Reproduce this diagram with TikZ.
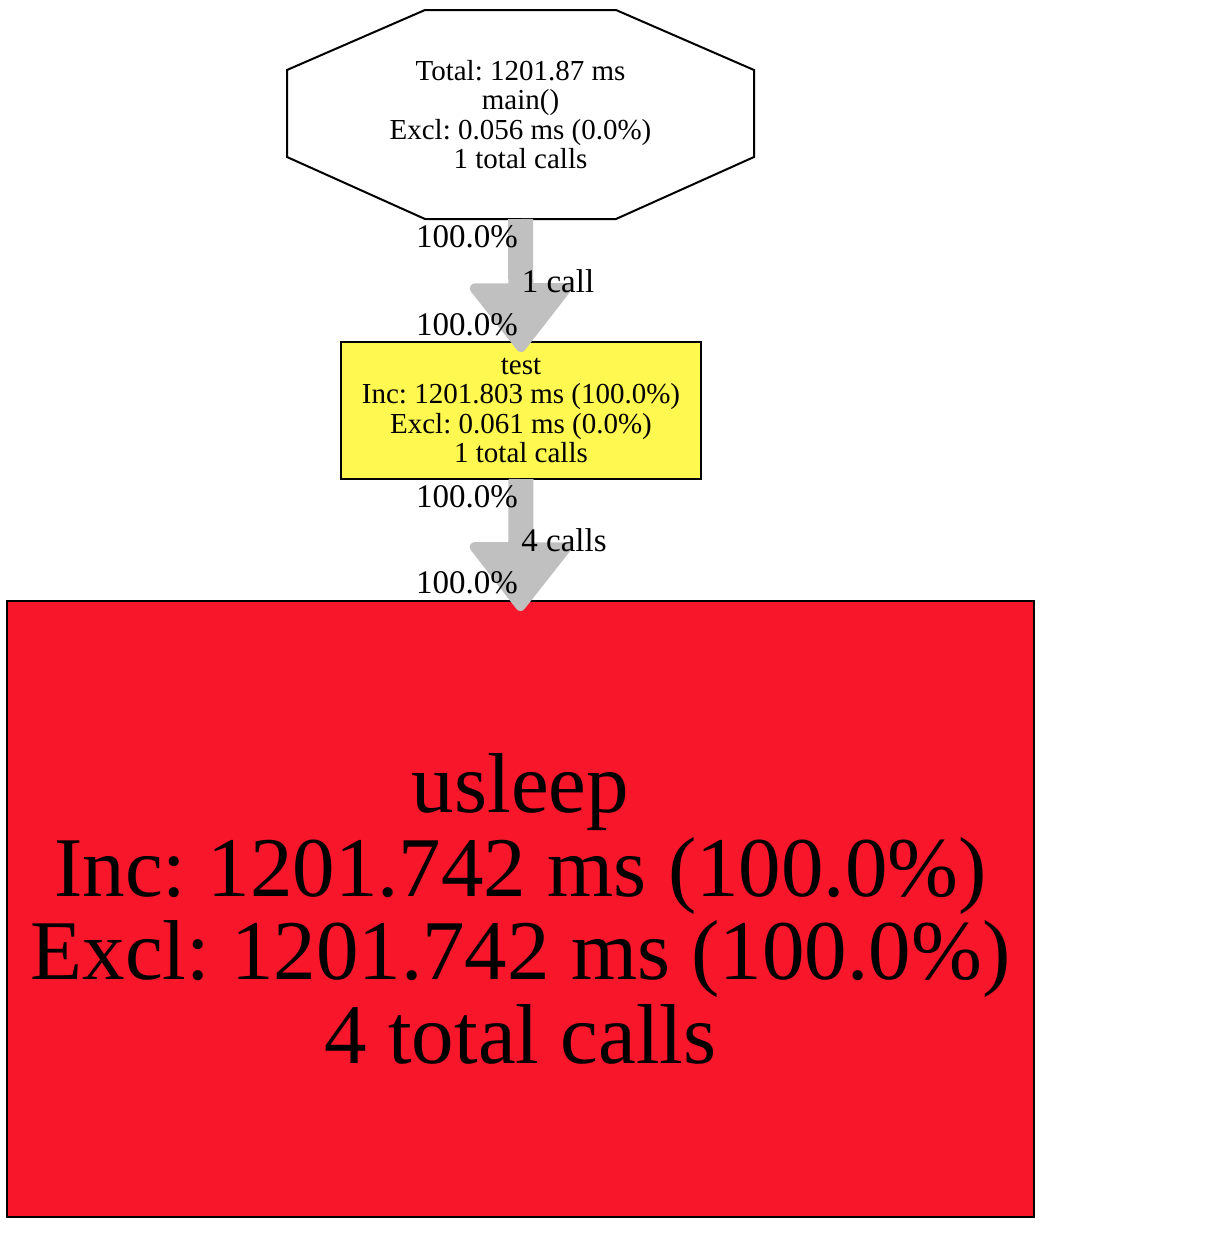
\documentclass[tikz,border=0pt]{standalone}
\usepackage{fontspec}
\setmainfont{Liberation Serif}
\usetikzlibrary{arrows.meta}
\definecolor{edgegray}{RGB}{192,192,192}
\definecolor{testyellow}{RGB}{255,248,80}
\definecolor{sleepred}{RGB}{247,22,42}
\frenchspacing

\begin{document}
\begin{tikzpicture}[x=1pt, y=-1pt,
  every node/.style={align=center, inner sep=0pt, outer sep=0pt},
  small/.style={font=\fontsize{29}{29.5}\selectfont},
  lbl/.style={font=\fontsize{33}{33}\selectfont},
  big/.style={font=\fontsize{85}{83.5}\selectfont},
  box/.style={draw=black, line width=2pt},
  flow/.style={draw=edgegray, line width=25pt, shorten >=-10pt, -{Triangle[width=110pt,length=72pt,line width=10pt,round]}}]
\useasboundingbox (0,0) rectangle (1214,1234);

\node[small, minimum width=467pt, minimum height=209pt] (main) at (520.5,114.5) {Total: 1201.87 ms\\main()\\Excl: 0.056 ms (0.0\%)\\1 total calls};
\draw[line width=2pt] ([xshift=138pt]main.north west) -- ([xshift=-138pt]main.north east) -- ([yshift=-60pt]main.north east) -- ([yshift=62pt]main.south east) -- ([xshift=-138pt]main.south east) -- ([xshift=138pt]main.south west) -- ([yshift=62pt]main.south west) -- ([yshift=-60pt]main.north west) -- cycle;

\node[box, small, fill=testyellow, minimum width=360pt, minimum height=137pt] (test) at (521,410.5) {test\\Inc: 1201.803 ms (100.0\%)\\Excl: 0.061 ms (0.0\%)\\1 total calls};

\node[box, big, fill=sleepred, minimum width=1027pt, minimum height=616pt] (usleep) at (520.5,909) {usleep\\Inc: 1201.742 ms (100.0\%)\\Excl: 1201.742 ms (100.0\%)\\4 total calls};

\draw[flow] (main.south) -- (test.north);
\draw[flow] (test.south) -- (usleep.north);

\node[lbl] (mainout) at (467,237) {100.0\%};
\node[lbl] (callone) at (558,281) {1 call};
\node[lbl] (testin) at (467,325) {100.0\%};
\node[lbl] (testout) at (467,497) {100.0\%};
\node[lbl] (callfour) at (564,540) {4 calls};
\node[lbl] (sleepin) at (467,583) {100.0\%};
\end{tikzpicture}
\end{document}
